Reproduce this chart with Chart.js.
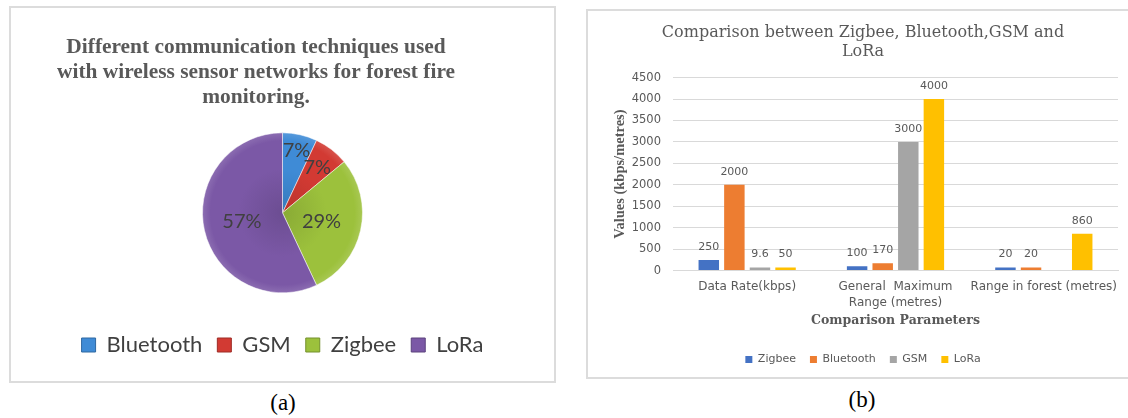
<!DOCTYPE html>
<html>
<head>
<meta charset="utf-8">
<script src="https://cdn.jsdelivr.net/npm/chart.js@4.4.1/dist/chart.umd.min.js"></script>
<style>
body{margin:0;background:#fff;width:1128px;height:418px;overflow:hidden;position:relative}
.box{position:absolute;border:2px solid #dcdcdc;box-sizing:border-box;background:#fff}
.cap{position:absolute;font-family:"Liberation Serif";font-size:23px;color:#000;transform:translate(-50%,-50%)}
</style>
</head>
<body>
<div class="box" style="left:9px;top:6px;width:547px;height:377px"><canvas id="pie"></canvas></div>
<div class="box" style="left:586px;top:9px;width:574px;height:370px"><canvas id="bar"></canvas></div>
<div class="cap" style="left:283px;top:403px">(a)</div>
<div class="cap" style="left:862px;top:400px">(b)</div>
<script>
// pie (a)
var pieLabels = ['Bluetooth', 'GSM', 'Zigbee', 'LoRa'];
var pieShare = [7, 7, 29, 57];
var pieColors = ['#3f8bd6', '#d23a33', '#9cc13c', '#7b58a6'];

// bars (b)
var barCategories = ['Data Rate(kbps)', ['General  Maximum', 'Range (metres)'], 'Range in forest (metres)'];
var zigbee = [250, 100, 20];
var bluetooth = [2000, 170, 20];
var gsm = [9.6, 3000, null];
var lora = [50, 4000, 860];
var yMax = 4500;
var yStep = 500;

function shade(hex, f) {
    var n = parseInt(hex.slice(1), 16);
    var c = [n >> 16, (n >> 8) & 255, n & 255].map(function(v) {
        v = f < 0 ? v * (1 + f) : v + (255 - v) * f;
        return Math.round(v);
    });
    return 'rgb(' + c.join(',') + ')';
}

// soft bevel like the office pie
function pieFill(c) {
    var base = pieColors[c.dataIndex];
    var a = c.chart.chartArea;
    if (!a) return base;
    var x = (a.left + a.right) / 2, y = (a.top + a.bottom) / 2;
    var g = c.chart.ctx.createRadialGradient(x, y, 0, x, y, 80);
    g.addColorStop(0, shade(base, -0.12));
    g.addColorStop(0.55, base);
    g.addColorStop(0.9, base);
    g.addColorStop(1, shade(base, 0.12));
    return g;
}

var pieText = {
    id: 'pieText',
    afterLayout: function(chart) {
        // the title sits left of the pie in the original
        chart.titleBlock.right -= 53;
    },
    afterDatasetsDraw: function(chart) {
        var ctx = chart.ctx;
        var meta = chart.getDatasetMeta(0);
        var k = [0.8, 0.71, 0.5, 0.52];
        ctx.save();
        ctx.font = '20px Lato';
        ctx.fillStyle = '#404040';
        ctx.textAlign = 'center';
        ctx.textBaseline = 'middle';
        meta.data.forEach(function(arc, i) {
            var a = (arc.startAngle + arc.endAngle) / 2;
            var r = arc.outerRadius * k[i];
            ctx.fillText(pieShare[i] + '%', arc.x + Math.cos(a) * r, arc.y + Math.sin(a) * r);
        });
        ctx.restore();
    }
};

var barText = {
    id: 'barText',
    afterDatasetsDraw: function(chart) {
        var ctx = chart.ctx;
        ctx.save();
        ctx.font = '11px "DejaVu Sans"';
        ctx.fillStyle = '#595959';
        ctx.textAlign = 'center';
        ctx.textBaseline = 'middle';
        chart.data.datasets.forEach(function(ds, d) {
            chart.getDatasetMeta(d).data.forEach(function(bar, i) {
                if (ds.data[i] === null) return;
                ctx.fillText(String(ds.data[i]), bar.x, bar.y - 13);
            });
        });
        ctx.restore();
    }
};

new Chart(document.getElementById('pie'), {
    type: 'pie',
    data: {
        labels: pieLabels,
        datasets: [{
            data: pieShare,
            backgroundColor: pieFill,
            borderColor: 'rgba(255,255,255,0.5)',
            borderWidth: 1,
            radius: 80
        }]
    },
    options: {
        responsive: true,
        maintainAspectRatio: false,
        animation: false,
        layout: {padding: {bottom: 15}},
        plugins: {
            title: {
                display: true,
                text: ['Different communication techniques used', 'with wireless sensor networks for forest fire', 'monitoring.'],
                font: {family: 'Liberation Serif', size: 21.4, weight: 'bold', lineHeight: 1.17},
                color: '#595959',
                padding: {top: 27, bottom: -3.5}
            },
            legend: {
                position: 'bottom',
                labels: {
                    boxWidth: 14, boxHeight: 14, font: {family: 'Lato', size: 22}, color: '#404040', padding: 15,
                    generateLabels: function(chart) {
                        return pieLabels.map(function(l, i) {
                            return {text: l, fillStyle: pieColors[i], strokeStyle: shade(pieColors[i], -0.25),
                                lineWidth: 1, fontColor: '#404040', index: i};
                        });
                    }
                }
            },
            tooltip: {enabled: false}
        }
    },
    plugins: [pieText]
});

new Chart(document.getElementById('bar'), {
    type: 'bar',
    data: {
        labels: barCategories,
        datasets: [
            {label: 'Zigbee', data: zigbee, backgroundColor: '#4472c4'},
            {label: 'Bluetooth', data: bluetooth, backgroundColor: '#ed7d31'},
            {label: 'GSM', data: gsm, backgroundColor: '#a5a5a5'},
            {label: 'LoRa', data: lora, backgroundColor: '#ffc000'}
        ]
    },
    options: {
        responsive: true,
        maintainAspectRatio: false,
        animation: false,
        layout: {padding: {left: 20, right: 40, bottom: 2}},
        datasets: {bar: {categoryPercentage: 0.69, barPercentage: 0.8, minBarLength: 3}},
        scales: {
            x: {
                grid: {display: false},
                border: {color: '#d9d9d9'},
                ticks: {color: '#595959', font: {family: 'DejaVu Sans', size: 12, lineHeight: 1.35}, padding: 0, maxRotation: 0, autoSkip: false},
                title: {display: true, text: 'Comparison Parameters', color: '#595959',
                    font: {family: 'DejaVu Serif', size: 12.5, weight: 'bold'}, padding: {top: 2, bottom: 12}}
            },
            y: {
                min: 0,
                max: yMax,
                ticks: {stepSize: yStep, color: '#595959', font: {family: 'DejaVu Sans', size: 11.5}, padding: 12,
                    callback: function(v) { return String(v); }},
                grid: {color: '#d9d9d9', drawTicks: false},
                border: {display: false},
                title: {display: true, text: 'Values (kbps/metres)', color: '#595959',
                    font: {family: 'Liberation Serif', size: 14.5, weight: 'bold'}},
                afterFit: function(s) { s.width = 65; }
            }
        },
        plugins: {
            title: {
                display: true,
                text: ['Comparison between Zigbee, Bluetooth,GSM and', 'LoRa'],
                font: {family: 'DejaVu Serif', size: 16, weight: 'normal', lineHeight: 1.19},
                color: '#595959',
                padding: {top: 12.5, bottom: 16}
            },
            legend: {
                position: 'bottom',
                labels: {boxWidth: 7, boxHeight: 7, font: {family: 'DejaVu Sans', size: 11}, color: '#595959', padding: 14}
            },
            tooltip: {enabled: false}
        }
    },
    plugins: [barText]
});
</script>
</body>
</html>
